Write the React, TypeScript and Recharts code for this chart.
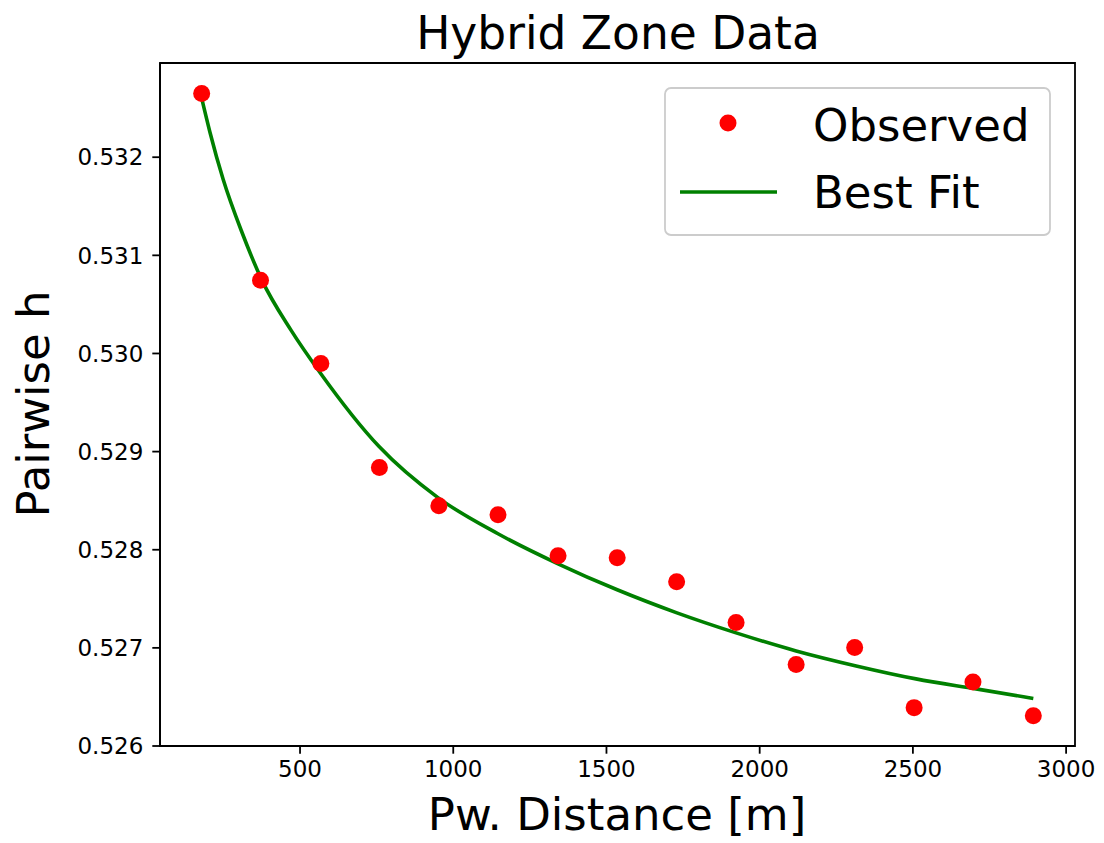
import React from 'react';
import { ComposedChart, Scatter, Line, XAxis, YAxis, ReferenceArea } from 'recharts';

// observed pairwise h per distance bin
const distances = [179, 371, 568, 759, 953, 1146, 1342, 1535, 1729, 1923, 2119, 2310, 2504, 2696, 2893];
const observedH = [
  0.53265, 0.530745, 0.529898, 0.528837, 0.528449, 0.528357, 0.527939, 0.527918,
  0.527673, 0.527258, 0.52683, 0.527003, 0.526391, 0.526653, 0.526309,
];

// best fit curve
const fitDistances = [179, 206, 249, 311, 376, 471, 565, 758, 950, 1146, 1342, 1535, 1730, 1923, 2119, 2315, 2510, 2706, 2893];
const fitH = [
  0.532602, 0.532255, 0.531775, 0.53123, 0.530745, 0.530235, 0.529806, 0.529051, 0.528531, 0.528163,
  0.527857, 0.527592, 0.527357, 0.527153, 0.526969, 0.526816, 0.526684, 0.526582, 0.526485,
];

const xTicks = [500, 1000, 1500, 2000, 2500, 3000];
const yTicks = [0.526, 0.527, 0.528, 0.529, 0.53, 0.531, 0.532];

const X_MIN = 43;
const X_MAX = 3029;
const Y_MIN = 0.526;
const Y_MAX = 0.53296;

const observed = distances.map((d, i) => ({ d, h: observedH[i] }));
const fit = fitDistances.map((d, i) => ({ d, h: fitH[i] }));

const FONT = '"DejaVu Sans", sans-serif';

const RedDot = (props: any) => <circle cx={props.cx} cy={props.cy} r={8.5} fill="#ff0000" />;

const YLabel = () => (
  <text x={49} y={404} transform="rotate(-90 49 404)" textAnchor="middle" fontSize={45} fontFamily={FONT} fill="#000">
    Pairwise h
  </text>
);

const XLabel = () => (
  <text x={617} y={830} textAnchor="middle" fontSize={45} fontFamily={FONT} fill="#000">
    Pw. Distance [m]
  </text>
);

const tickStyle = { fontSize: 23, fontFamily: FONT, fill: '#000' };

export default function App() {
  return (
    <div style={{ position: 'absolute', left: 0, top: 0, width: 1104, height: 843, background: '#fff' }}>
      <ComposedChart width={1104} height={843} margin={{ top: 63, right: 29, bottom: 0, left: 0 }}>
        <XAxis
          dataKey="d"
          type="number"
          domain={[X_MIN, X_MAX]}
          ticks={xTicks}
          allowDataOverflow
          height={97}
          tickSize={7.7}
          tickMargin={7}
          tick={tickStyle}
          axisLine={{ stroke: '#000', strokeWidth: 1.8 }}
          tickLine={{ stroke: '#000', strokeWidth: 1.8 }}
          label={<XLabel />}
        />
        <YAxis
          type="number"
          domain={[Y_MIN, Y_MAX]}
          ticks={yTicks}
          allowDataOverflow
          width={160}
          tickSize={7.7}
          tickMargin={9}
          tick={tickStyle}
          tickFormatter={(v: number) => v.toFixed(3)}
          axisLine={{ stroke: '#000', strokeWidth: 1.8 }}
          tickLine={{ stroke: '#000', strokeWidth: 1.8 }}
          label={<YLabel />}
        />
        <ReferenceArea x1={X_MIN} x2={X_MAX} y1={Y_MIN} y2={Y_MAX} fill="none" stroke="#000" strokeWidth={1.8} fillOpacity={0} />
        <Scatter data={observed} dataKey="h" name="Observed" shape={RedDot} isAnimationActive={false} />
        <Line
          data={fit}
          dataKey="h"
          name="Best Fit"
          type="monotone"
          stroke="#008000"
          strokeWidth={3.6}
          dot={false}
          activeDot={false}
          isAnimationActive={false}
        />
      </ComposedChart>
      <svg width={1104} height={843} style={{ position: 'absolute', left: 0, top: 0, pointerEvents: 'none' }}>
        <text x={618} y={49} textAnchor="middle" fontSize={45.5} fontFamily={FONT} fill="#000">
          Hybrid Zone Data
        </text>
        <rect x={665} y={88} width={385} height={147} rx={6} fill="#fff" fillOpacity={0.8} stroke="#cccccc" strokeWidth={1.8} />
        <circle cx={728} cy={123} r={8.5} fill="#ff0000" />
        <line x1={680} x2={777} y1={192} y2={192} stroke="#008000" strokeWidth={3.6} />
        <text x={813} y={141} fontSize={45} fontFamily={FONT} fill="#000">Observed</text>
        <text x={813} y={208} fontSize={45} fontFamily={FONT} fill="#000">Best Fit</text>
      </svg>
    </div>
  );
}
